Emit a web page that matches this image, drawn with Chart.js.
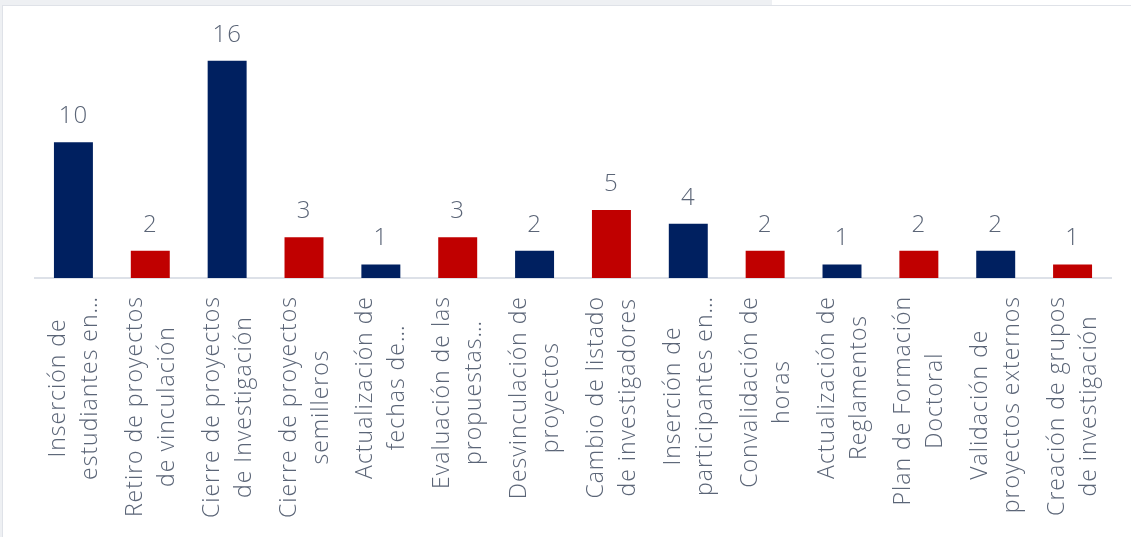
<!DOCTYPE html>
<html>
<head>
<meta charset="utf-8">
<script src="https://cdn.jsdelivr.net/npm/chart.js@4.4.0/dist/chart.umd.min.js"></script>
<style>
  html, body { margin: 0; padding: 0; width: 1131px; height: 537px; overflow: hidden; background: #eef0f3; }
  .topfill { position: absolute; left: 772px; top: 0; width: 359px; height: 6px; background: #fff; }
  .card { position: absolute; left: 2px; top: 5px; right: -2px; bottom: -2px; background: #fff; border: 1px solid #dfe2e8; }
  canvas { position: absolute; left: 0; top: 0; }
</style>
</head>
<body>
<div class="topfill"></div>
<div class="card"></div>
<canvas id="chart" width="1131" height="537"></canvas>
<script>
(() => {
  'use strict';

  const labels = [
    ['Inserción de', 'estudiantes en…'],
    ['Retiro de proyectos', 'de vinculación'],
    ['Cierre de proyectos', 'de Investigación'],
    ['Cierre de proyectos', 'semilleros'],
    ['Actualización de', 'fechas de…'],
    ['Evaluación de las', 'propuestas…'],
    ['Desvinculación de', 'proyectos'],
    ['Cambio de listado', 'de investigadores'],
    ['Inserción de', 'participantes en…'],
    ['Convalidación de', 'horas'],
    ['Actualización de', 'Reglamentos'],
    ['Plan de Formación', 'Doctoral'],
    ['Validación de', 'proyectos externos'],
    ['Creación de grupos', 'de investigación']
  ];
  const values = [10, 2, 16, 3, 1, 3, 2, 5, 4, 2, 1, 2, 2, 1];

  const palette = ['#002060', '#C00000'];
  const textColor = '#5b6577';
  const fontFamily = "'Open Sans', 'Noto Sans', sans-serif";

  // value above each bar
  const valueLabels = {
    id: 'valueLabels',
    afterDatasetsDraw(chart) {
      const ctx = chart.ctx;
      const meta = chart.getDatasetMeta(0);
      ctx.save();
      ctx.font = `300 24px ${fontFamily}`;
      ctx.letterSpacing = '1px';
      ctx.fillStyle = textColor;
      ctx.textAlign = 'center';
      ctx.textBaseline = 'middle';
      meta.data.forEach((bar, i) => {
        ctx.fillText(String(values[i]), bar.x, bar.y - 26);
      });
      ctx.restore();
    }
  };

  // rotated, centred multi-line category labels
  const categoryLabels = {
    id: 'categoryLabels',
    afterDraw(chart) {
      const ctx = chart.ctx;
      const xs = chart.scales.x;
      const lineH = 32;
      ctx.save();
      ctx.font = `300 23px ${fontFamily}`;
      ctx.letterSpacing = '1px';
      ctx.fillStyle = textColor;
      ctx.textAlign = 'center';
      ctx.textBaseline = 'middle';
      labels.forEach((lines, i) => {
        const x = xs.getPixelForTick(i);
        const w = Math.max(...lines.map(l => ctx.measureText(l).width));
        ctx.save();
        ctx.translate(x, chart.chartArea.bottom + 18);
        ctx.rotate(-Math.PI / 2);
        lines.forEach((l, j) => {
          ctx.fillText(l, -w / 2, (j - (lines.length - 1) / 2) * lineH + 1);
        });
        ctx.restore();
      });
      ctx.restore();
    }
  };

  new Chart(document.getElementById('chart'), {
    type: 'bar',
    data: {
      labels: labels.map(l => l.join(' ')),
      datasets: [{
        data: values,
        backgroundColor: values.map((v, i) => palette[i % 2]),
        barPercentage: 0.507,
        categoryPercentage: 1
      }]
    },
    options: {
      responsive: false,
      animation: false,
      layout: { padding: { left: 35, right: 20, top: 20, bottom: 259 } },
      plugins: { legend: { display: false }, tooltip: { enabled: false } },
      scales: {
        x: {
          grid: { display: false, drawTicks: false },
          border: { color: '#dde1e8', width: 2 },
          ticks: { display: false }
        },
        y: {
          display: false,
          min: 0,
          max: 19
        }
      }
    },
    plugins: [valueLabels, categoryLabels]
  });
})();
</script>
</body>
</html>
